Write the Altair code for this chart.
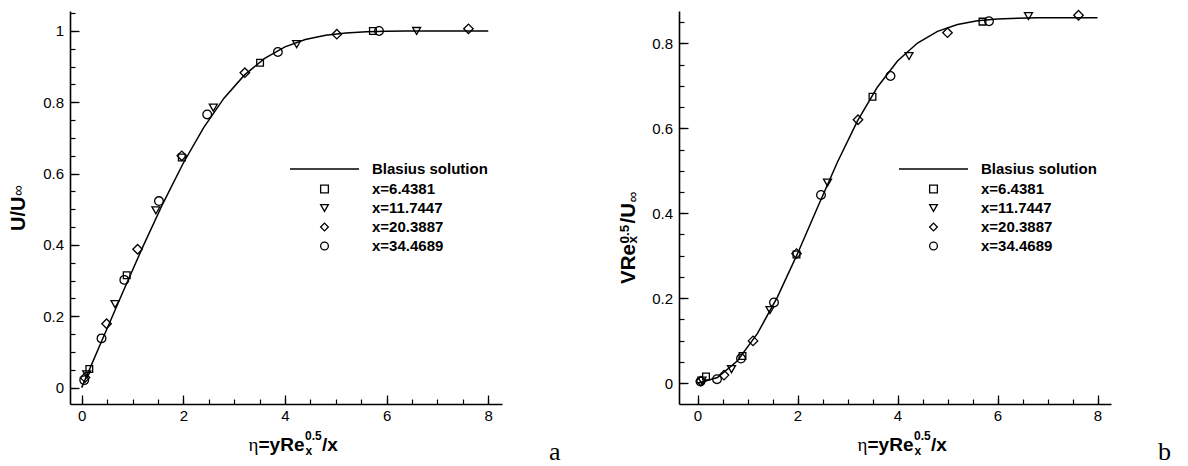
import altair as alt
import pandas as pd

# ---------------- data ----------------
LINE_NAME = "Blasius solution"
SERIES = ["x=6.4381", "x=11.7447", "x=20.3887", "x=34.4689"]
SHAPES = ["square", "triangle-down", "diamond", "circle"]
SIZES = [45, 64, 90, 75]

BL_ETA = [0.0, 0.4, 0.8, 1.2, 1.6, 2.0, 2.4, 2.8, 3.2, 3.6, 4.0, 4.4, 4.8,
          5.2, 5.6, 6.0, 6.4, 6.8, 7.2, 7.6, 8.0]
BL_U = [0.0, 0.1328, 0.2647, 0.3938, 0.5168, 0.6298, 0.7290, 0.8115, 0.8761,
        0.9233, 0.9555, 0.9759, 0.9878, 0.9943, 0.9975, 0.9990, 0.9996, 0.9999,
        1.0, 1.0, 1.0]
BL_V = [0.0, 0.0133, 0.0528, 0.1173, 0.2032, 0.3048, 0.4136, 0.5206, 0.6172,
        0.6972, 0.7582, 0.8007, 0.8280, 0.8441, 0.8528, 0.8571, 0.8591, 0.8599,
        0.8602, 0.8603, 0.8604]

# panel a : U/U_inf
U_ETA_1 = [0.15, 0.886, 1.97, 3.51, 5.73]
U_VAL_1 = [0.052, 0.315, 0.645, 0.911, 1.0]
U_ETA_2 = [0.10, 0.656, 1.46, 2.59, 4.23, 6.59]
U_VAL_2 = [0.037, 0.234, 0.497, 0.785, 0.963, 1.0]
U_ETA_3 = [0.065, 0.49, 1.10, 1.97, 3.21, 5.02, 7.61]
U_VAL_3 = [0.028, 0.179, 0.388, 0.650, 0.883, 0.991, 1.006]
U_ETA_4 = [0.05, 0.39, 0.839, 1.52, 2.47, 3.86, 5.85]
U_VAL_4 = [0.021, 0.138, 0.302, 0.523, 0.766, 0.941, 1.0]

# panel b : V Re^0.5 / U_inf
V_ETA_1 = [0.17, 0.90, 1.98, 3.50, 5.70]
V_VAL_1 = [0.0156, 0.064, 0.303, 0.674, 0.851]
V_ETA_2 = [0.09, 0.68, 1.45, 2.60, 4.23, 6.62]
V_VAL_2 = [0.006, 0.033, 0.172, 0.472, 0.770, 0.864]
V_ETA_3 = [0.07, 0.53, 1.11, 1.98, 3.21, 5.0, 7.62]
V_VAL_3 = [0.005, 0.019, 0.0995, 0.305, 0.620, 0.825, 0.866]
V_ETA_4 = [0.06, 0.39, 0.87, 1.53, 2.47, 3.86, 5.83]
V_VAL_4 = [0.004, 0.0094, 0.058, 0.190, 0.443, 0.723, 0.852]

X_MAJOR = [0, 2, 4, 6, 8]
X_MINOR = [i * 0.5 for i in range(17)]
U_MAJOR = [0, 0.2, 0.4, 0.6, 0.8, 1]
U_MINOR = [round(i * 0.05, 2) for i in range(22)]
V_MAJOR = [0, 0.2, 0.4, 0.6, 0.8]
V_MINOR = [round(i * 0.05, 2) for i in range(18)]

W, H = 432, 393
SANS = "Liberation Sans"
SERIF = "Liberation Serif"


def points_df(etas, vals):
    rows = []
    for name, e, v in zip(SERIES, etas, vals):
        for a, b in zip(e, v):
            rows.append({"eta": a, "val": b, "series": name})
    return pd.DataFrame(rows)


def txt(s, x, y, size, weight="normal", font=SANS, angle=0, align="left"):
    return alt.Chart(pd.DataFrame({"t": [s]})).mark_text(
        font=font, fontSize=size, fontWeight=weight, angle=angle,
        align=align, baseline="alphabetic", color="black"
    ).encode(x=alt.value(x), y=alt.value(y), text="t:N")


def axis_major(values, pad, orient):
    return alt.Axis(values=values, format="~g", tickSize={"expr": "-9"},
                    labelPadding=pad, labelFont=SANS, labelFontSize=15,
                    labelColor="black", tickColor="black", tickWidth=1.3,
                    domainColor="black", domainWidth=1.6, grid=False,
                    title=None, labelOverlap=False, labelFlush=False,
                    orient=orient)


def axis_minor(values, orient):
    return alt.Axis(values=values, labels=False, domain=False,
                    tickSize={"expr": "-5"}, tickColor="black", tickWidth=1.2,
                    grid=False, title=None, orient=orient)


SHAPE_LEGEND = alt.Legend(orient="none", legendX=247, legendY=170.5,
                          title=None, symbolSize=60,
                          symbolStrokeWidth=1.3, symbolStrokeColor="black",
                          symbolOpacity=1,
                          labelFont=SANS, labelFontWeight="bold",
                          labelFontSize=15, labelColor="black",
                          labelOffset=40, rowPadding=3, padding=0,
                          labelLimit=300)


def panel(line_vals, etas, vals, xdom, ydom, ymaj, ymin, ytitle, letter):
    xs = alt.Scale(domain=xdom, nice=False, zero=False)
    ys = alt.Scale(domain=ydom, nice=False, zero=False)
    ldf = pd.DataFrame({"eta": BL_ETA, "val": line_vals,
                        "name": [LINE_NAME] * len(BL_ETA)})
    line = alt.Chart(ldf).mark_line(color="black", strokeWidth=1.5).encode(
        x=alt.X("eta:Q", scale=xs, axis=axis_major(X_MAJOR, 13, "bottom")),
        y=alt.Y("val:Q", scale=ys, axis=axis_major(ymaj, 15.5, "left")),
        color=alt.Color("name:N", scale=alt.Scale(domain=[LINE_NAME], range=["black"]),
                        legend=alt.Legend(orient="none", legendX=219, legendY=122.5,
                                          title=None, symbolType="stroke",
                                          symbolSize=4761, symbolStrokeWidth=1.5,
                                          symbolStrokeColor="black",
                                          labelFont=SANS, labelFontWeight="bold",
                                          labelFontSize=15, labelColor="black",
                                          labelOffset=12, padding=0, labelLimit=300)),
    )
    pdf = points_df(etas, vals)
    pt_layers = []
    for i, name in enumerate(SERIES):
        xa = axis_minor(X_MINOR, "bottom") if i == 0 else None
        ya = axis_minor(ymin, "left") if i == 0 else None
        pt_layers.append(
            alt.Chart(pdf).transform_filter(alt.datum.series == name).mark_point(
                filled=False, color="black", strokeWidth=1.3, opacity=1,
                size=SIZES[i]
            ).encode(
                x=alt.X("eta:Q", scale=xs, axis=xa),
                y=alt.Y("val:Q", scale=ys, axis=ya),
                shape=alt.Shape("series:N", scale=alt.Scale(domain=SERIES, range=SHAPES),
                                legend=SHAPE_LEGEND),
            )
        )
    # x title: eta = y Re_x^0.5 / x
    xt = [
        txt("\u03b7", 188.5, 440, 19, font=SERIF, align="right"),
        txt("=yRe", 188.5, 440, 19, weight="bold"),
        txt("0.5", 235, 429, 12, weight="bold"),
        txt("x", 235.5, 444, 12, weight="bold"),
        txt("/x", 252, 440, 19, weight="bold"),
    ]
    lab = [txt(letter, 479, 449, 26, font=SERIF)]
    return alt.layer(line, *pt_layers, *xt, *ytitle, *lab).resolve_axis(
        x="independent", y="independent"
    ).properties(width=W, height=H)


ytitle_a = [
    txt("U/U", -45, 220, 20, weight="bold", angle=270),
    txt("\u221e", -47, 185, 15, angle=270),
]
ytitle_b = [
    txt("VRe", -44, 273, 20.5, weight="bold", angle=270),
    txt("0.5", -50, 232.5, 13.5, weight="bold", angle=270),
    txt("x", -42, 232.5, 13.5, weight="bold", angle=270),
    txt("/U", -44, 212.5, 20.5, weight="bold", angle=270),
    txt("\u221e", -41, 191.5, 15.5, angle=270),
]

left = panel(BL_U, [U_ETA_1, U_ETA_2, U_ETA_3, U_ETA_4],
             [U_VAL_1, U_VAL_2, U_VAL_3, U_VAL_4],
             [-0.23, 8.27], [-0.046, 1.056], U_MAJOR, U_MINOR, ytitle_a, "a")
right = panel(BL_V, [V_ETA_1, V_ETA_2, V_ETA_3, V_ETA_4],
              [V_VAL_1, V_VAL_2, V_VAL_3, V_VAL_4],
              [-0.37, 8.27], [-0.049, 0.876], V_MAJOR, V_MINOR, ytitle_b, "b")

chart = alt.hconcat(left, right, spacing=177, bounds="flush").resolve_scale(
    color="independent", shape="independent"
).resolve_legend(
    color="independent", shape="independent"
).properties(
    padding={"left": 9, "top": 7, "right": 5, "bottom": 0},
    background="white",
).configure_view(stroke=None)

chart.save("out.html", embed_options={"renderer": "svg", "actions": False})
